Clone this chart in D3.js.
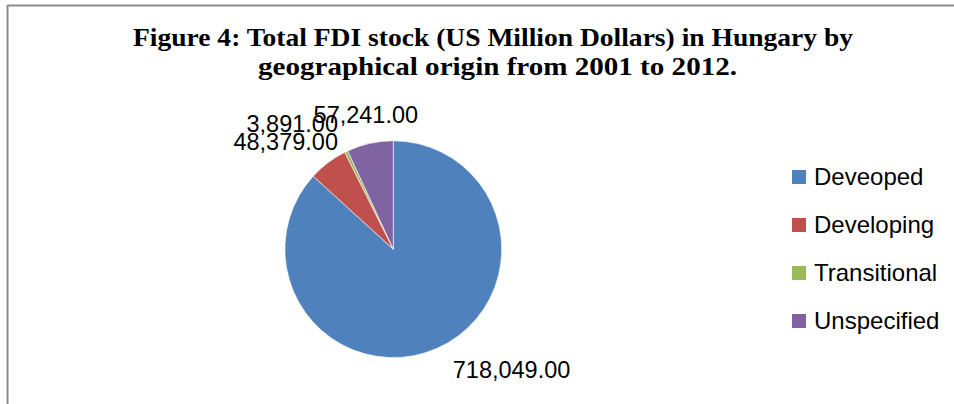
<!DOCTYPE html>
<html>
<head>
<meta charset="utf-8">
<script src="https://cdn.jsdelivr.net/npm/d3@7"></script>
<style>
  html, body { margin: 0; padding: 0; background: #fff; }
  svg { display: block; }
</style>
</head>
<body>
<svg id="chart" width="954" height="404"></svg>
<script>
const categories = ["Deveoped", "Developing", "Transitional", "Unspecified"];
const values = [718049, 48379, 3891, 57241];
const labels = ["718,049.00", "48,379.00", "3,891.00", "57,241.00"];
const colors = ["#4F81BD", "#C0504D", "#9BBB59", "#8064A2"];
const titleLines = ["Figure 4: Total FDI stock (US Million Dollars) in Hungary by",
                    "geographical origin from 2001 to 2012."];

const W = 954, H = 404;
const svg = d3.select("#chart");

// frame
svg.append("line").attr("x1", 7.5).attr("y1", 5.5).attr("x2", W).attr("y2", 5.5)
  .attr("stroke", "#8c8c8c").attr("stroke-width", 2);
svg.append("line").attr("x1", 7.5).attr("y1", 5).attr("x2", 7.5).attr("y2", H)
  .attr("stroke", "#8c8c8c").attr("stroke-width", 2);

// title
const titleLayout = [{ cx: 493, y: 46, w: 720 }, { cx: 497.5, y: 75, w: 479 }];
const title = svg.append("g");
titleLines.forEach((t, i) => {
  title.append("text")
    .attr("x", titleLayout[i].cx).attr("y", titleLayout[i].y)
    .attr("text-anchor", "middle")
    .attr("font-family", "'Liberation Serif', 'Times New Roman', serif")
    .attr("font-weight", "bold")
    .attr("font-size", 25)
    .attr("textLength", titleLayout[i].w)
    .attr("lengthAdjust", "spacingAndGlyphs")
    .attr("fill", "#000")
    .text(t);
});

// pie
const cx = 393.3, cy = 249.2, r = 108.4;
const data = categories.map((c, i) => ({ cat: c, value: values[i], label: labels[i], color: colors[i] }));
const pie = d3.pie().value(d => d.value).sort(null);
const arcs = pie(data);
const arc = d3.arc().innerRadius(0).outerRadius(r);
const g = svg.append("g").attr("transform", `translate(${cx},${cy})`);
g.selectAll("path").data(arcs).join("path")
  .attr("d", arc)
  .attr("fill", d => d.data.color)
  .attr("stroke", "#ffffff")
  .attr("stroke-width", 0.6);

// labels placed outside at mid-angle (outside end)
const labelR = r + 19;
const pos = arcs.map(d => {
  const a = (d.startAngle + d.endAngle) / 2;
  const s = Math.sin(a), c = Math.cos(a);
  const x = labelR * s, y = -labelR * c;
  const anchor = Math.abs(s) < 0.3 ? "middle" : (s > 0 ? "start" : "end");
  return c > 0 ? { x: x, y: y - 2, anchor } : { x: x + 8, y: y + 12, anchor };
});
// best-fit: the Developing label collides with the Transitional label,
// so it is stacked just below it, sharing the same right edge
pos[1] = { x: pos[2].x, y: pos[2].y + 18, anchor: "end" };

g.selectAll("text.lbl").data(arcs).join("text")
  .attr("class", "lbl")
  .attr("x", (d, i) => pos[i].x)
  .attr("y", (d, i) => pos[i].y)
  .attr("text-anchor", (d, i) => pos[i].anchor)
  .attr("font-family", "'Liberation Sans', Arial, sans-serif")
  .attr("font-size", 23.5)
  .attr("fill", "#000")
  .text(d => d.data.label);

// legend
const legend = svg.append("g");
const legY = d3.scalePoint().domain(categories).range([177, 321]);
categories.forEach((c, i) => {
  const y = legY(c);
  legend.append("rect")
    .attr("x", 792).attr("y", y - 7).attr("width", 14).attr("height", 14)
    .attr("fill", colors[i]);
  legend.append("text")
    .attr("x", 814).attr("y", y + 8)
    .attr("font-family", "'Liberation Sans', Arial, sans-serif")
    .attr("font-size", 24)
    .attr("fill", "#000")
    .text(c);
});
</script>
</body>
</html>
